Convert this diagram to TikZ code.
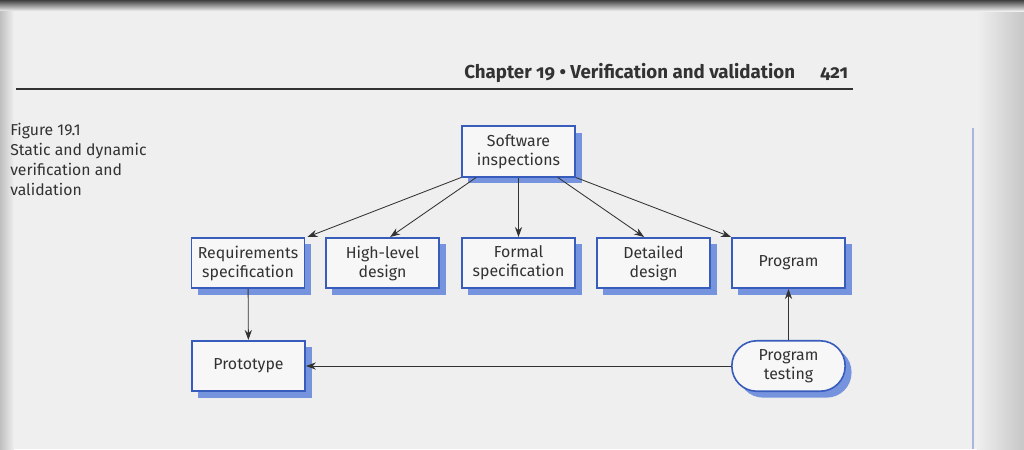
\documentclass[tikz,border=0pt]{standalone}
\usepackage{fontspec}
\setmainfont{Fira Sans}
\newfontfamily\headfont{Fira Sans}[Numbers=OldStyle]
\usetikzlibrary{arrows.meta,shadows,calc}
\definecolor{paper}{RGB}{239,239,239}
\definecolor{frame}{RGB}{56,92,188}
\definecolor{shade}{RGB}{118,148,222}
\definecolor{ink}{RGB}{50,50,50}
\definecolor{edge}{RGB}{168,182,224}

\begin{document}
\begin{tikzpicture}[x=0.025cm,y=-0.025cm,
  stage/.style={draw=frame,line width=1.15pt,fill=paper!50!white,minimum width=2.83cm,
    minimum height=1.26cm,inner sep=0pt,align=center,text=ink,
    font=\fontsize{11.3}{13.5}\selectfont,
    drop shadow={shadow xshift=0.16cm,shadow yshift=-0.16cm,fill=shade,opacity=1}},
  test/.style={stage,rounded corners=0.62cm},
  flow/.style={ink,line width=0.6pt,-{Stealth[length=2.5mm,width=1.8mm]}}]
\useasboundingbox (0,0) rectangle (1024,449);
% page
\fill[paper] (0,0) rectangle (1024,449);
\shade[left color=paper,right color=black!22] (977,0) rectangle (1024,449);
\shade[top color=black!75,bottom color=paper] (0,0) rectangle (1024,11);
\shade[left color=black!25,right color=paper] (0,11) rectangle (14,449);
\draw[edge,line width=1.6pt] (973,128) -- (973,449);
% running head
\node[font=\headfont\bfseries\fontsize{13.3}{15}\selectfont,text=ink,anchor=base east]
  (head) at (800,78) {Chapter 19 \textbullet\ Verification and validation};
\node[font=\headfont\bfseries\fontsize{13.3}{15}\selectfont,text=ink,anchor=base east]
  (page) at (853,78) {421};
\draw[ink,line width=1.1pt] (16,89) -- (853,89);
% caption
\node[font=\fontsize{11.2}{14.2}\selectfont,text=ink,anchor=north west,align=left,inner sep=0pt]
  (cap) at (10,123) {Figure 19.1\\Static and dynamic\\verification and\\validation};
% boxes
\node[stage] (insp) at (518.5,151.5) {Software\\inspections};
\node[stage] (req) at (248,263) {Requirements\\specification};
\node[stage] (high) at (382.5,263) {High-level\\design};
\node[stage] (formal) at (518.5,263) {Formal\\specification};
\node[stage] (detail) at (653.5,263) {Detailed\\design};
\node[stage] (prog) at (788.5,263) {Program};
\node[stage] (proto) at (248.5,366) {Prototype};
\node[test] (ptest) at (788.5,366) {Program\\testing};
% connectors
\draw[flow] (insp.south west) -- ($(req.north east)+(2,0)$);
\draw[flow] ($(insp.south west)+(15,0)$) -- ($(high.north west)+(65,0)$);
\draw[flow] (insp) -- (formal);
\draw[flow] ($(insp.south east)+(-18,0)$) -- ($(detail.north west)+(48,0)$);
\draw[flow] (insp.south east) -- (prog.north west);
\draw[flow] (req) -- (proto);
\draw[flow] (ptest) -- (proto);
\draw[flow] (ptest) -- (prog);
\end{tikzpicture}
\end{document}
